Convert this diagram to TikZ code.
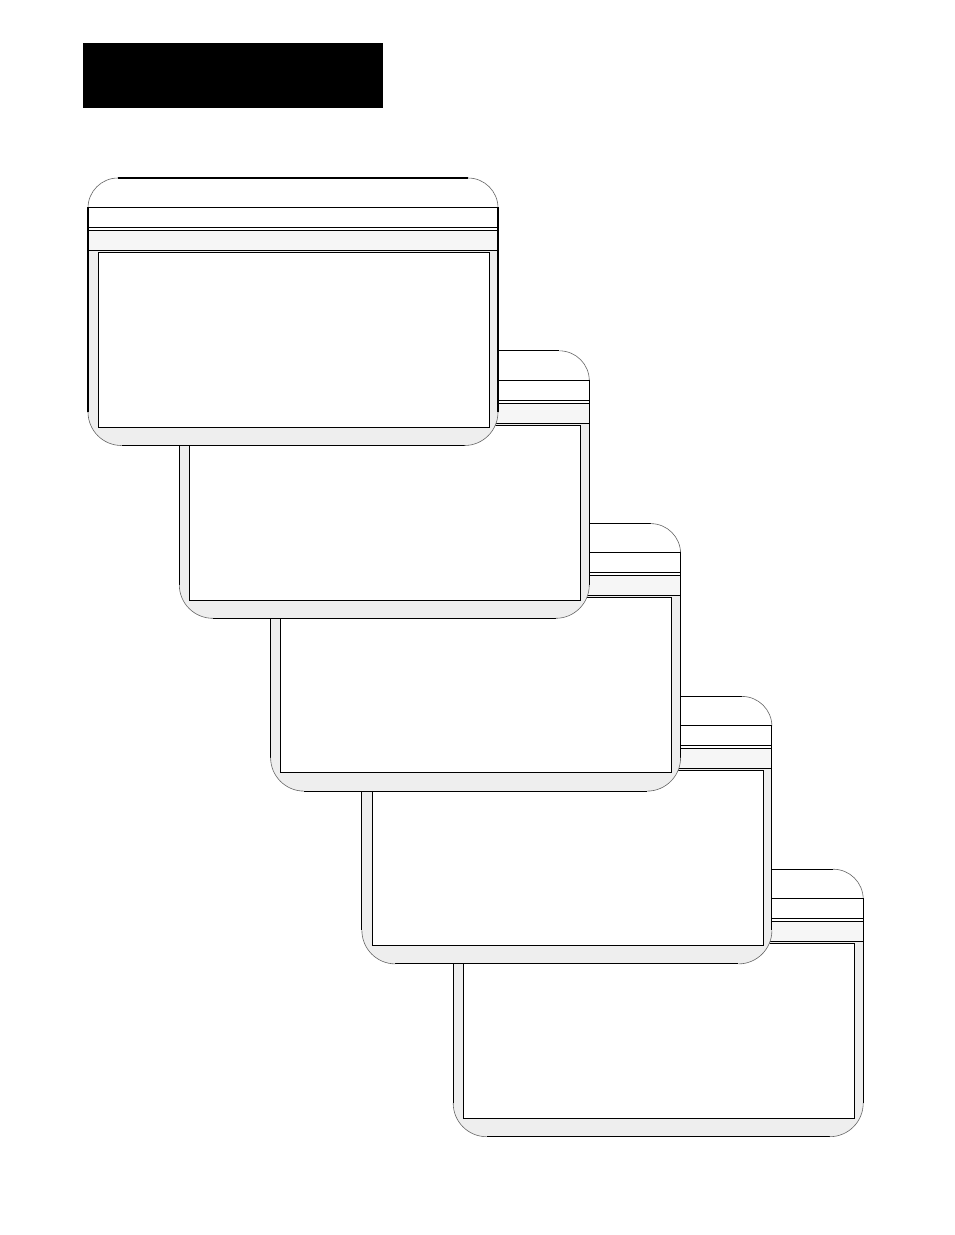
\documentclass[tikz,border=0pt]{standalone}
\usepackage{tikz}
\definecolor{stripgrey}{HTML}{EEEEEE}
\definecolor{bandgrey}{HTML}{F6F6F6}
\tikzset{
  outl/.style={draw=black, line width=1.1pt},
  arcl/.style={draw=black!60, line width=0.6pt},
  winframe/.pic={
    % white background of the whole shape
    \fill[white] (0,30) .. controls (0,13.4) and (13.4,0) .. (30,0) -- (380,0)
      .. controls (396.6,0) and (410,13.4) .. (410,30) -- (410,234)
      .. controls (410,252.5) and (395,267.5) .. (376.5,267.5) -- (33.5,267.5)
      .. controls (15,267.5) and (0,252.5) .. (0,234) -- cycle;
    % grey border strips
    \fill[stripgrey] (0,72.3) -- (410,72.3) -- (410,234)
      .. controls (410,252.5) and (395,267.5) .. (376.5,267.5) -- (33.5,267.5)
      .. controls (15,267.5) and (0,252.5) .. (0,234) -- cycle;
    % light band of the second bar
    \fill[bandgrey] (0,52.3) rectangle (410,72.3);
    % inner box
    \filldraw[fill=white, outl] (10.3,74.3) rectangle (401.3,249.3);
    % top tab
    \draw[outl] (30,0) -- (380,0);
    \draw[arcl] (0,29.3) -- (0,30) .. controls (0,13.4) and (13.4,0) .. (30,0);
    \draw[arcl] (380,0) .. controls (396.6,0) and (410,13.4) .. (410,30) -- (410,29.3);
    % bars and sides
    \draw[outl] (0,234) -- (0,29.3) -- (410,29.3) -- (410,234);
    \draw[outl] (0,49.3) -- (410,49.3);
    \draw[outl] (0,52.3) -- (410,52.3);
    \draw[outl] (0,72.3) -- (410,72.3);
    % bottom
    \draw[outl] (33.5,267.5) -- (376.5,267.5);
    \draw[arcl] (0,234) .. controls (0,252.5) and (15,267.5) .. (33.5,267.5);
    \draw[arcl] (376.5,267.5) .. controls (395,267.5) and (410,252.5) .. (410,234);
  }
}
\begin{document}
\begin{tikzpicture}[x=1pt,y=-1pt]
  \useasboundingbox (0,0) rectangle (954,1235);
  \fill[white] (0,0) rectangle (954,1235);
  % black title block
  \fill[black] (83,43) rectangle (383,108);
  % cascading frames, back to front
  \foreach \i in {4,3,2,1,0} {
    \pic at ({88+91.3*\i},{178+172.8*\i}) {winframe};
  }
\end{tikzpicture}
\end{document}
